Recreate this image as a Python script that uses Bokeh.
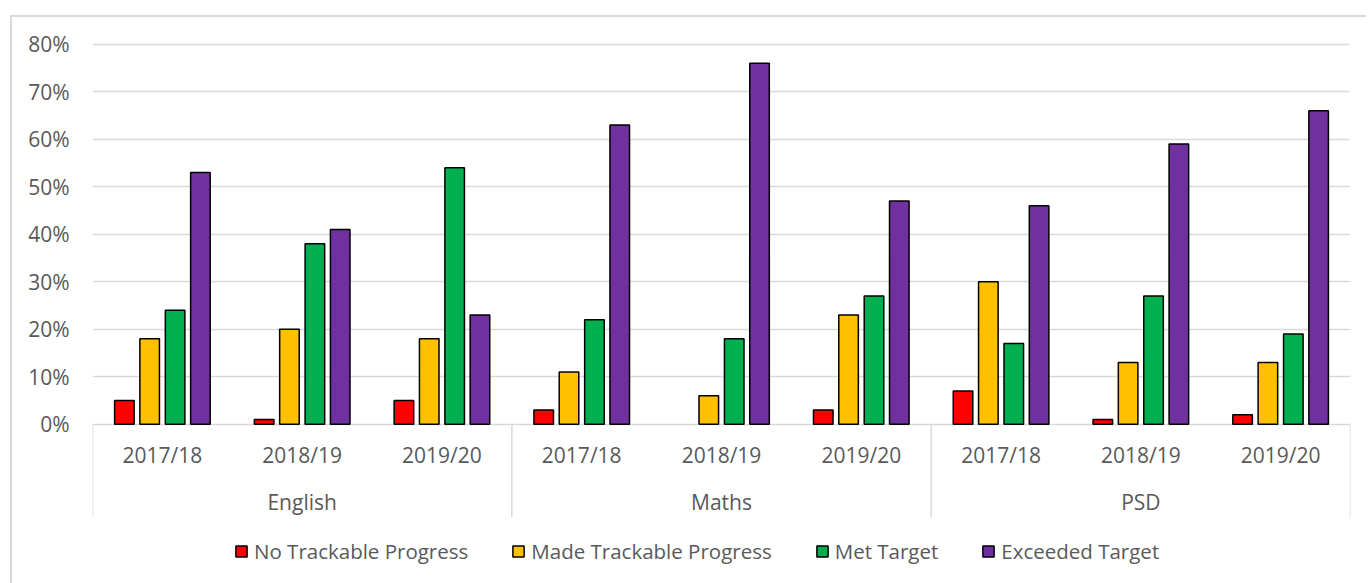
from bokeh.plotting import figure
from bokeh.models import (FactorRange, Range1d, FixedTicker, NumeralTickFormatter,
                          ColumnDataSource, Legend, LegendItem)
from bokeh.transform import dodge
from bokeh.core.properties import value
from bokeh.embed import file_html
from bokeh.resources import INLINE

# ---- data ----
subjects = ["English", "Maths", "PSD"]
years = ["2017/18", "2018/19", "2019/20"]
series_names = ["No Trackable Progress", "Made Trackable Progress", "Met Target", "Exceeded Target"]
no_progress = [5, 1, 5, 3, 0, 3, 7, 1, 2]
made_progress = [18, 20, 18, 11, 6, 23, 30, 13, 13]
met_target = [24, 38, 54, 22, 18, 27, 17, 27, 19]
exceeded_target = [53, 41, 23, 63, 76, 47, 46, 59, 66]
y_ticks = [0, 0.1, 0.2, 0.3, 0.4, 0.5, 0.6, 0.7, 0.8]

# ---- styles ----
colors = ["#FF0000", "#FFC000", "#00B050", "#7030A0"]
offsets = [-0.272, -0.091, 0.091, 0.272]
TEXT = "#595959"
GRID = "#d9d9d9"
FONT = "Open Sans"

factors = [(s, y) for s in subjects for y in years]
x_range = FactorRange(*factors, factor_padding=0, group_padding=0, range_padding=0)

p = figure(x_range=x_range, y_range=Range1d(-0.3353, 0.81),
           frame_width=1258, frame_height=544,
           min_border_left=80, min_border_right=16, min_border_top=22, min_border_bottom=0,
           output_backend="svg", toolbar_location=None, x_axis_location=None)
p.styles = {"margin-left": "10px", "margin-top": "15px", "margin-bottom": "-40px",
            "border-left": "2px solid #d9d9d9", "border-top": "2px solid #d9d9d9"}
p.outline_line_color = None
p.background_fill_color = "white"
p.border_fill_color = "white"

p.xgrid.grid_line_color = None
p.ygrid.ticker = FixedTicker(ticks=y_ticks)
p.ygrid.grid_line_color = GRID
p.ygrid.grid_line_width = 1.3

p.yaxis.ticker = FixedTicker(ticks=y_ticks)
p.yaxis.formatter = NumeralTickFormatter(format="0%")
p.yaxis.axis_line_color = None
p.yaxis.major_tick_line_color = None
p.yaxis.minor_tick_line_color = None
p.yaxis.major_tick_in = 0
p.yaxis.major_tick_out = 0
p.yaxis.major_label_standoff = 23
p.yaxis.major_label_text_font = FONT
p.yaxis.major_label_text_font_size = "21px"
p.yaxis.major_label_text_color = TEXT

# category separators below the baseline
bounds = [i * len(years) for i in range(len(subjects) + 1)]
p.segment(x0=bounds, y0=[0] * len(bounds), x1=bounds, y1=[-0.196] * len(bounds),
          line_color=GRID, line_width=1.5)

# bars
renderers = []
for vals, color, off in zip([no_progress, made_progress, met_target, exceeded_target], colors, offsets):
    src = ColumnDataSource(dict(
        x=factors,
        top=[v / 100 for v in vals],
        lc=["black" if v > 0 else None for v in vals],
    ))
    r = p.vbar(x=dodge("x", off, range=p.x_range), top="top", width=0.14, source=src,
               fill_color=color, line_color="lc", line_width=1.5)
    renderers.append(r)

# category labels
p.text(x=factors, y=[-0.0658] * len(factors), text=[f[1] for f in factors],
       text_align="center", text_baseline="middle", text_font=value(FONT),
       text_font_size="21px", text_color=TEXT)
p.text(x=[(s, years[len(years) // 2]) for s in subjects], y=[-0.163] * len(subjects),
       text=subjects, text_align="center", text_baseline="middle", text_font=value(FONT),
       text_font_size="21px", text_color=TEXT)

legend = Legend(items=[LegendItem(label=n, renderers=[r]) for n, r in zip(series_names, renderers)],
                location=(142, 18), orientation="horizontal",
                label_text_font=FONT, label_text_font_size="20.5px", label_text_color=TEXT,
                glyph_width=14, glyph_height=14, label_standoff=6, spacing=43,
                padding=0, margin=0, border_line_color=None, background_fill_alpha=0,
                label_height=20)
p.add_layout(legend)

open("out.html", "w").write(file_html(p, INLINE))
